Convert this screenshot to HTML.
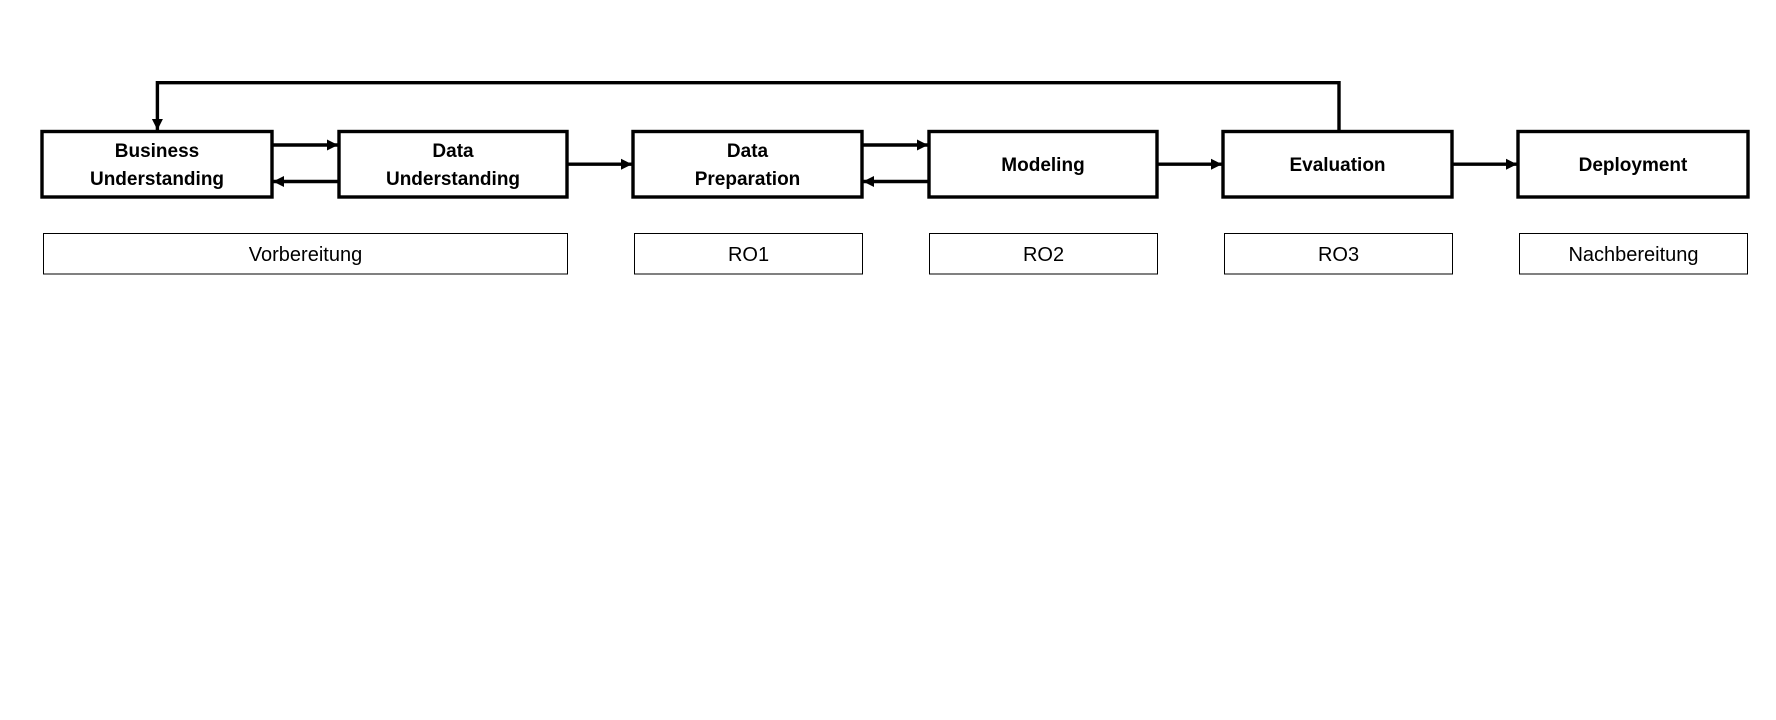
<!DOCTYPE html>
<html><head><meta charset="utf-8"><style>
html,body{margin:0;padding:0;background:#fff;width:1776px;height:720px;overflow:hidden}
svg text{font-family:"Liberation Sans",sans-serif;fill:#000}
.b{font-weight:bold;font-size:19px}
.r{font-size:20px}
</style></head><body>
<svg width="1776" height="720" xmlns="http://www.w3.org/2000/svg">
<defs><marker id="a" markerWidth="12" markerHeight="12" refX="11" refY="6" orient="auto" markerUnits="userSpaceOnUse"><path d="M0,0.5 L11,6 L0,11.5 z" fill="#000"/></marker></defs>
<g fill="none" stroke="#000" stroke-width="3.4">
<rect x="42" y="131.5" width="230" height="65.5"/>
<rect x="339" y="131.5" width="228" height="65.5"/>
<rect x="633" y="131.5" width="229" height="65.5"/>
<rect x="929" y="131.5" width="228" height="65.5"/>
<rect x="1223" y="131.5" width="229" height="65.5"/>
<rect x="1518" y="131.5" width="230" height="65.5"/>
<polyline points="1339,131.5 1339,82.7 157.4,82.7 157.4,130" marker-end="url(#a)"/>
<line x1="272" y1="145" x2="338" y2="145" marker-end="url(#a)"/>
<line x1="339" y1="181.5" x2="273" y2="181.5" marker-end="url(#a)"/>
<line x1="567" y1="164.2" x2="632" y2="164.2" marker-end="url(#a)"/>
<line x1="862" y1="145" x2="928" y2="145" marker-end="url(#a)"/>
<line x1="929" y1="181.5" x2="863" y2="181.5" marker-end="url(#a)"/>
<line x1="1157" y1="164.2" x2="1222" y2="164.2" marker-end="url(#a)"/>
<line x1="1452" y1="164.2" x2="1517" y2="164.2" marker-end="url(#a)"/>
</g>
<g fill="none" stroke="#000" stroke-width="1">
<rect x="43.5" y="233.5" width="524" height="40.5"/>
<rect x="634.5" y="233.5" width="228" height="40.5"/>
<rect x="929.5" y="233.5" width="228" height="40.5"/>
<rect x="1224.5" y="233.5" width="228" height="40.5"/>
<rect x="1519.5" y="233.5" width="228" height="40.5"/>
</g>
<g text-anchor="middle" class="b">
<text x="157" y="157" class="b">Business</text><text x="157" y="185" class="b">Understanding</text>
<text x="453" y="157" class="b">Data</text><text x="453" y="185" class="b">Understanding</text>
<text x="747.5" y="157" class="b">Data</text><text x="747.5" y="185" class="b">Preparation</text>
<text x="1043" y="171" class="b">Modeling</text>
<text x="1337.5" y="171" class="b">Evaluation</text>
<text x="1633" y="171" class="b">Deployment</text>
</g>
<g text-anchor="middle" class="r">
<text x="305.5" y="261" class="r">Vorbereitung</text>
<text x="748.5" y="261" class="r">RO1</text>
<text x="1043.5" y="261" class="r">RO2</text>
<text x="1338.5" y="261" class="r">RO3</text>
<text x="1633.5" y="261" class="r">Nachbereitung</text>
</g>
</svg>
</body></html>
